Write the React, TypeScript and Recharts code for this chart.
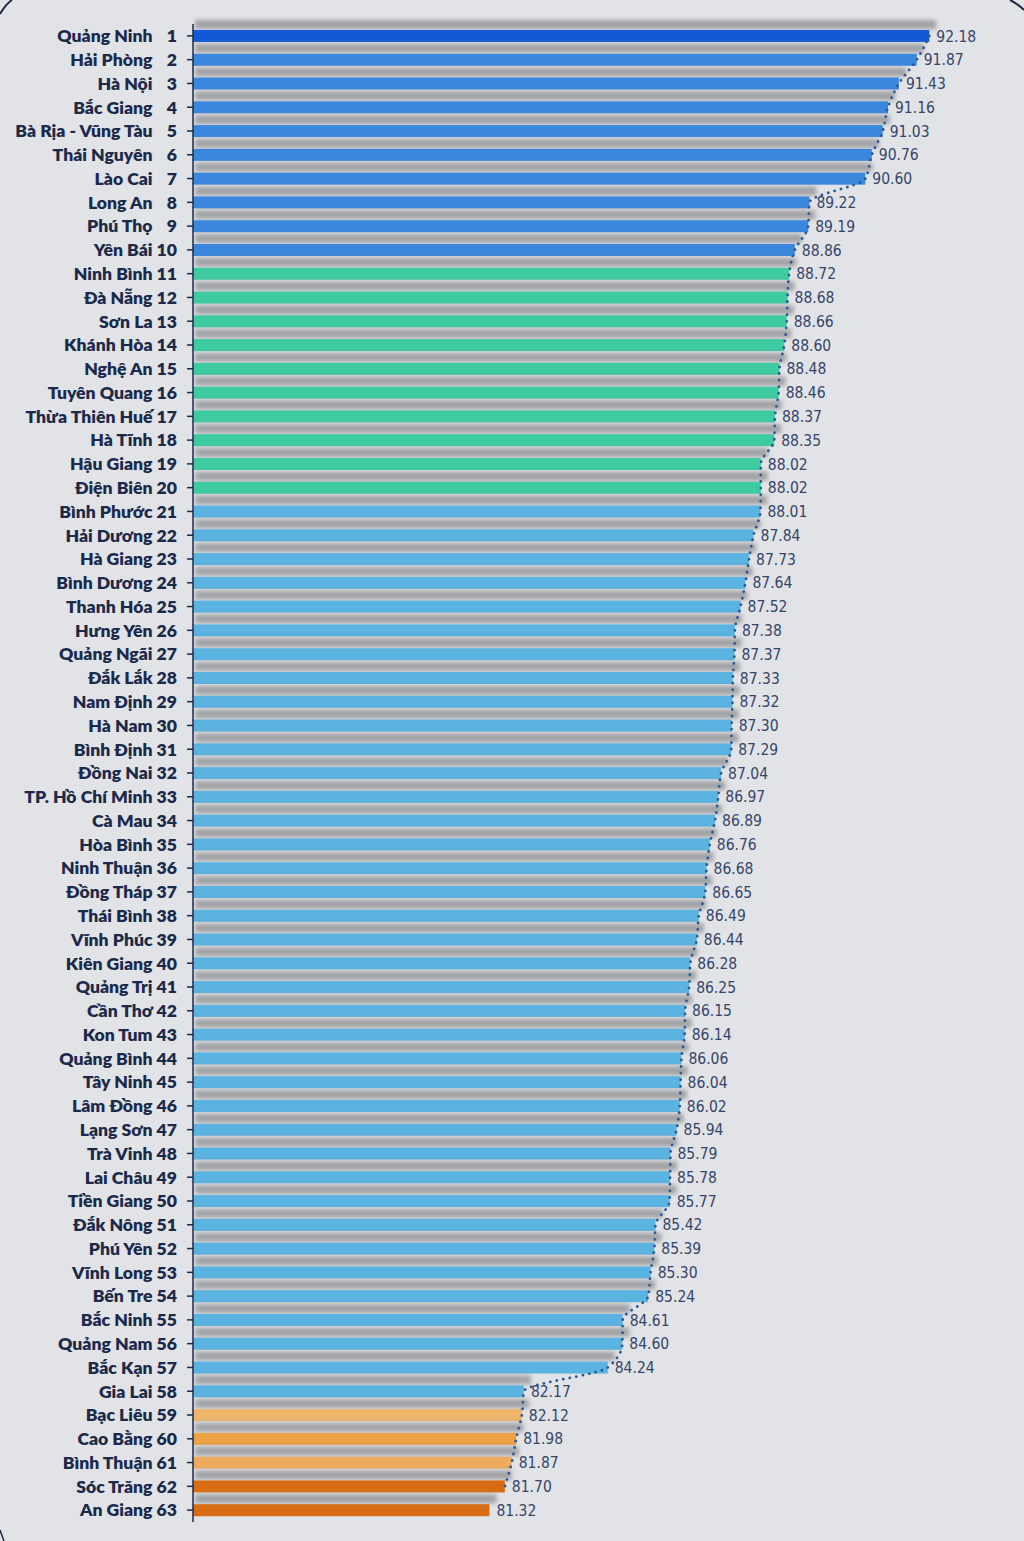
import React from "react";
import {
  ComposedChart,
  Bar,
  Line,
  XAxis,
  YAxis,
  LabelList,
} from "recharts";

const provinces: string[] = [
  "Quảng Ninh", "Hải Phòng", "Hà Nội", "Bắc Giang", "Bà Rịa - Vũng Tàu",
  "Thái Nguyên", "Lào Cai", "Long An", "Phú Thọ", "Yên Bái",
  "Ninh Bình", "Đà Nẵng", "Sơn La", "Khánh Hòa", "Nghệ An",
  "Tuyên Quang", "Thừa Thiên Huế", "Hà Tĩnh", "Hậu Giang", "Điện Biên",
  "Bình Phước", "Hải Dương", "Hà Giang", "Bình Dương", "Thanh Hóa",
  "Hưng Yên", "Quảng Ngãi", "Đắk Lắk", "Nam Định", "Hà Nam",
  "Bình Định", "Đồng Nai", "TP. Hồ Chí Minh", "Cà Mau", "Hòa Bình",
  "Ninh Thuận", "Đồng Tháp", "Thái Bình", "Vĩnh Phúc", "Kiên Giang",
  "Quảng Trị", "Cần Thơ", "Kon Tum", "Quảng Bình", "Tây Ninh",
  "Lâm Đồng", "Lạng Sơn", "Trà Vinh", "Lai Châu", "Tiền Giang",
  "Đắk Nông", "Phú Yên", "Vĩnh Long", "Bến Tre", "Bắc Ninh",
  "Quảng Nam", "Bắc Kạn", "Gia Lai", "Bạc Liêu", "Cao Bằng",
  "Bình Thuận", "Sóc Trăng", "An Giang",
];

const scores: number[] = [
  92.18, 91.87, 91.43, 91.16, 91.03,
  90.76, 90.6, 89.22, 89.19, 88.86,
  88.72, 88.68, 88.66, 88.6, 88.48,
  88.46, 88.37, 88.35, 88.02, 88.02,
  88.01, 87.84, 87.73, 87.64, 87.52,
  87.38, 87.37, 87.33, 87.32, 87.3,
  87.29, 87.04, 86.97, 86.89, 86.76,
  86.68, 86.65, 86.49, 86.44, 86.28,
  86.25, 86.15, 86.14, 86.06, 86.04,
  86.02, 85.94, 85.79, 85.78, 85.77,
  85.42, 85.39, 85.3, 85.24, 84.61,
  84.6, 84.24, 82.17, 82.12, 81.98,
  81.87, 81.7, 81.32,
];

// number of ranks covered by the dotted trend line
const trendCount = 62;

const xDomain: [number, number] = [74, 94];

function colorFor(rank: number): string {
  if (rank === 1) return "#1259d8";
  if (rank <= 10) return "#3a87de";
  if (rank <= 20) return "#3ecba2";
  if (rank <= 58) return "#5ab3e0";
  if (rank === 59) return "#efb56c";
  if (rank === 60) return "#eda345";
  if (rank === 61) return "#eeab5e";
  return "#d86c13";
}

const data = provinces.map((name, i) => {
  const rank = i + 1;
  return {
    label: rank < 10 ? `${name} \u2007${rank}` : `${name} ${rank}`,
    rank,
    value: scores[i],
    trend: rank <= trendCount ? scores[i] : null,
  };
});

const BarWithShadow = (props: any) => {
  const { x, y, width, height, payload } = props;
  if (width == null || width <= 0) return null;
  const fill = colorFor(payload.rank);
  return (
    <g>
      <rect
        x={x + 2}
        y={y - 10}
        width={width + 5}
        height={9}
        fill="#8c8d90"
        opacity={0.75}
        filter="url(#shadowBlur)"
      />
      <rect x={x} y={y} width={width} height={height} fill={fill} />
    </g>
  );
};

const YTick = (props: any) => {
  const { x, y, payload } = props;
  return (
    <text
      x={x}
      y={y}
      dy="0.36em"
      textAnchor="end"
      fill="#1b2a4b"
      fontFamily="Lato, 'Noto Sans', sans-serif"
      fontWeight={800}
      fontSize={17.6}
    >
      {payload.value}
    </text>
  );
};

export default function App() {
  return (
    <div
      style={{
        position: "absolute",
        left: 0,
        top: 0,
        width: 1024,
        height: 1541,
        background: "#e2e3e6",
        overflow: "hidden",
      }}
    >
      <svg
        width={1024}
        height={1541}
        style={{ position: "absolute", left: 0, top: 0 }}
      >
        <path d="M0,14 Q6,4 12,0" stroke="#1c2a48" strokeWidth={2} fill="none" />
        <path d="M1010,0 Q1018,4 1024,10" stroke="#1c2a48" strokeWidth={2} fill="none" />
        <path d="M0,1530 L4,1541" stroke="#1c2a48" strokeWidth={1.5} fill="none" />
      </svg>
      <div style={{ position: "absolute", left: 0, top: 0 }}>
        <ComposedChart
          width={1024}
          height={1541}
          data={data}
          layout="vertical"
          margin={{ top: 24, right: 21, bottom: 19, left: 0 }}
          barCategoryGap={0}
        >
          <defs>
            <filter id="shadowBlur" x="-5%" y="-100%" width="110%" height="300%">
              <feGaussianBlur stdDeviation="2.2" />
            </filter>
          </defs>
          <XAxis type="number" domain={xDomain} hide allowDataOverflow />
          <YAxis
            type="category"
            dataKey="label"
            width={193}
            interval={0}
            tick={<YTick />}
            tickSize={6}
            tickMargin={10}
            axisLine={{ stroke: "#1b2a4b", strokeWidth: 1.5 }}
            tickLine={{ stroke: "#1b2a4b", strokeWidth: 1.5 }}
          />
          <Bar
            dataKey="value"
            barSize={12}
            isAnimationActive={false}
            shape={<BarWithShadow />}
          >
            <LabelList
              dataKey="value"
              position="right"
              offset={7}
              formatter={(v: any) => Number(v).toFixed(2)}
              style={{
                fill: "#34456a",
                fontFamily: "'Liberation Sans Narrow', 'DejaVu Sans Condensed', sans-serif",
                fontSize: 15.5,
              }}
            />
          </Bar>
          <Line
            dataKey="trend"
            type="monotone"
            stroke="#2d5b94"
            strokeWidth={2.8}
            strokeDasharray="0.1 6.5"
            strokeLinecap="round"
            dot={false}
            activeDot={false}
            connectNulls={false}
            isAnimationActive={false}
          />
        </ComposedChart>
      </div>
    </div>
  );
}
